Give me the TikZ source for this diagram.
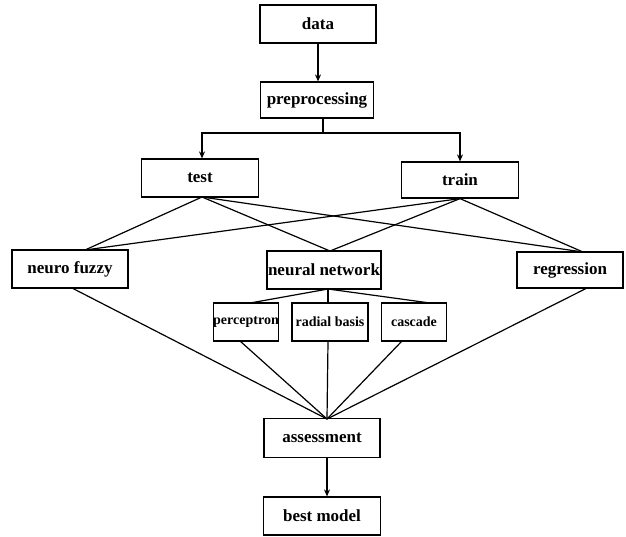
\documentclass[tikz,border=0pt]{standalone}
\usepackage{fontspec}
\setmainfont{Liberation Serif}
\usetikzlibrary{arrows.meta}
\begin{document}
\begin{tikzpicture}[x=1pt,y=-1pt,
  box/.style={draw,line width=1.2pt,inner sep=0pt,font=\fontsize{17}{18}\selectfont\bfseries},
  sbox/.style={draw,line width=1.2pt,inner sep=0pt,font=\fontsize{14}{15}\selectfont\bfseries},
  ln/.style={line width=1.2pt},
  arr/.style={line width=1.2pt,-{Stealth[length=7pt,width=6pt]}}]
\useasboundingbox (0,0) rectangle (626,536);
\node[box,minimum width=116pt,minimum height=38pt] (data) at (318,24) {data};
\node[box,minimum width=113pt,minimum height=36pt] (pre) at (317,100) {preprocessing};
\node[box,minimum width=117pt,minimum height=38pt] (test) at (200,178) {test};
\node[box,minimum width=117pt,minimum height=36pt] (train) at (460,180) {train};
\node[box,minimum width=116pt,minimum height=38pt] (nf) at (70,269) {neuro fuzzy};
\node[box,minimum width=114pt,minimum height=38pt] (nn) at (324,270) {neural network};
\node[box,minimum width=106pt,minimum height=36pt] (reg) at (570,270) {regression};
\node[sbox,minimum width=65pt,minimum height=38pt] (perc) at (246,322) {perceptron};
\node[sbox,minimum width=76pt,minimum height=38pt] (rb) at (330,322) {radial basis};
\node[sbox,minimum width=65pt,minimum height=38pt] (cas) at (414,322) {cascade};
\node[box,minimum width=116pt,minimum height=39pt] (as) at (322,438) {assessment};
\node[box,minimum width=117pt,minimum height=38pt] (best) at (322,516) {best model};
\coordinate (split) at (323,133);
\coordinate (tin) at (202,133);
\coordinate (trin) at (460,133);
\coordinate (asin) at (327,419);
\coordinate (nnout) at (328,289);
\coordinate (dpx) at (318,60);
\draw[arr] (data.south -| dpx) -- (pre.north -| dpx);
\draw[ln] (pre.south -| split) -- (split);
\draw[arr] (split) -- (tin) -- (tin |- test.north);
\draw[arr] (split) -- (trin) -- (train.north);
\coordinate (nfin) at (85,250);
\coordinate (regin) at (583,252);
\coordinate (nnin) at (330,251);
\draw[ln] (202,197) -- (nfin);
\draw[ln] (202,197) -- (nnin);
\draw[ln] (202,197) -- (regin);
\draw[ln] (train.south) -- (nfin);
\draw[ln] (train.south) -- (nnin);
\draw[ln] (train.south) -- (regin);
\draw[ln] (nnout) -- (250,303);
\draw[ln] (nnout) -- (rb.north -| nnout);
\draw[ln] (nnout) -- (430,303);
\draw[ln] (72,288) -- (asin);
\draw[ln] (240,341) -- (asin);
\draw[ln] (rb.south -| nnout) -- (asin);
\draw[ln] (402,341) -- (asin);
\draw[ln] (587,288) -- (asin);
\draw[arr] (as.south -| asin) -- (best.north -| asin);
\end{tikzpicture}
\end{document}
